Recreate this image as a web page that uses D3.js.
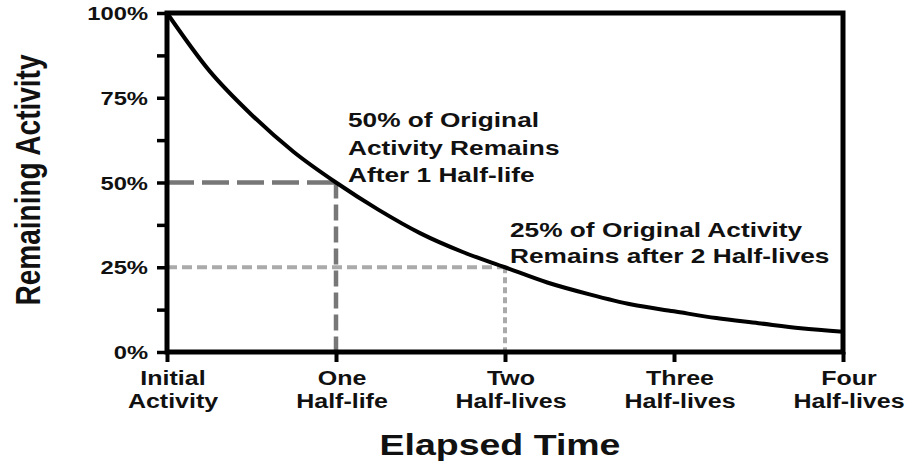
<!DOCTYPE html>
<html>
<head>
<meta charset="utf-8">
<script src="https://cdn.jsdelivr.net/npm/d3@7.9.0/dist/d3.min.js"></script>
<style>
  body { margin: 0; background: #fff; }
  svg text { font-family: "Liberation Sans", Arial, sans-serif; font-weight: bold; fill: #111; }
</style>
</head>
<body>
<svg id="chart" width="917" height="466"></svg>
<script>
// elapsed time in half-lives, and remaining activity (%)
const halfLives = [0, 0.25, 0.5, 0.75, 1, 1.25, 1.5, 1.75, 2, 2.25, 2.5, 2.75, 3, 3.25, 3.5, 3.75, 4];
const activity = [100, 83, 70, 59, 50, 42, 35, 29.5, 25, 20.5, 17, 14, 12, 10, 8.5, 7, 6];

const xTicks = [0, 1, 2, 3, 4];
const xTickLabels = [['Initial', 'Activity'], ['One', 'Half-life'], ['Two', 'Half-lives'], ['Three', 'Half-lives'], ['Four', 'Half-lives']];
const yTicks = [0, 25, 50, 75, 100];
const yMinorTicks = [12.5, 37.5, 62.5, 87.5];

const note1 = ['50% of Original', 'Activity Remains', 'After 1 Half-life'];
const note2 = ['25% of Original Activity', 'Remains after 2 Half-lives'];

const svg = d3.select('#chart');
const x = d3.scaleLinear().domain([0, 4]).range([167, 843]);
const y = d3.scaleLinear().domain([0, 100]).range([352, 13]);
const stretch = 1.25;

// reference lines
svg.append('line')
  .attr('x1', x(0)).attr('x2', x(1)).attr('y1', y(50)).attr('y2', y(50))
  .attr('stroke', '#777').attr('stroke-width', 4.5).attr('stroke-dasharray', '27,8');
svg.append('line')
  .attr('x1', x(1)).attr('x2', x(1)).attr('y1', y(50)).attr('y2', y(0))
  .attr('stroke', '#777').attr('stroke-width', 4.5).attr('stroke-dasharray', '16,6');
svg.append('line')
  .attr('x1', x(0)).attr('x2', x(2)).attr('y1', y(25)).attr('y2', y(25))
  .attr('stroke', '#aaa').attr('stroke-width', 4).attr('stroke-dasharray', '10,5');
svg.append('line')
  .attr('x1', x(2)).attr('x2', x(2)).attr('y1', y(25)).attr('y2', y(0))
  .attr('stroke', '#aaa').attr('stroke-width', 4).attr('stroke-dasharray', '6,4');

// decay curve
const line = d3.line()
  .x((d, i) => x(halfLives[i]))
  .y(d => y(d))
  .curve(d3.curveMonotoneX);
svg.append('path')
  .datum(activity)
  .attr('d', line)
  .attr('fill', 'none')
  .attr('stroke', '#000')
  .attr('stroke-width', 4);

// frame
svg.append('rect')
  .attr('x', x(0)).attr('y', y(100))
  .attr('width', x(4) - x(0)).attr('height', y(0) - y(100))
  .attr('fill', 'none').attr('stroke', '#000').attr('stroke-width', 5);

// axes
const yAxis = svg.append('g')
  .attr('transform', `translate(${x(0)},0)`)
  .call(d3.axisLeft(y).tickValues(yTicks.concat(yMinorTicks)).tickSize(10).tickFormat(''));
yAxis.select('.domain').remove();
yAxis.selectAll('line').attr('stroke', '#000').attr('stroke-width', 3.5);

const xAxis = svg.append('g')
  .attr('transform', `translate(0,${y(0)})`)
  .call(d3.axisBottom(x).tickValues(xTicks).tickSize(10).tickFormat(''));
xAxis.select('.domain').remove();
xAxis.selectAll('line').attr('stroke', '#000').attr('stroke-width', 4);

// y tick labels
svg.selectAll('.ylab')
  .data(yTicks)
  .join('text')
  .attr('class', 'ylab')
  .attr('transform', d => `translate(148,${y(d) + 7}) scale(${stretch},1)`)
  .attr('text-anchor', 'end')
  .attr('font-size', 19)
  .text(d => d + '%');

// x tick labels
xTicks.forEach((t, i) => {
  xTickLabels[i].forEach((s, j) => {
    svg.append('text')
      .attr('transform', `translate(${x(t) + 6},${385 + j * 23}) scale(${stretch},1)`)
      .attr('text-anchor', 'middle')
      .attr('font-size', 20)
      .attr('fill', '#222')
      .text(s);
  });
});

// annotations
note1.forEach((s, j) => {
  svg.append('text')
    .attr('transform', `translate(348,${127 + j * 27.5}) scale(${stretch},1)`)
    .attr('font-size', 21)
    .text(s);
});
note2.forEach((s, j) => {
  svg.append('text')
    .attr('transform', `translate(510,${237 + j * 26}) scale(${stretch},1)`)
    .attr('font-size', 21)
    .text(s);
});

// axis titles
svg.append('text')
  .attr('transform', `translate(500,455) scale(${stretch},1)`)
  .attr('text-anchor', 'middle')
  .attr('font-size', 30)
  .text('Elapsed Time');

svg.append('text')
  .attr('transform', `translate(40,180) rotate(-90) scale(1,${stretch})`)
  .attr('text-anchor', 'middle')
  .style('font-family', '"Liberation Sans Narrow", "Arial Narrow", sans-serif')
  .attr('font-size', 28)
  .text('Remaining Activity');
</script>
</body>
</html>
